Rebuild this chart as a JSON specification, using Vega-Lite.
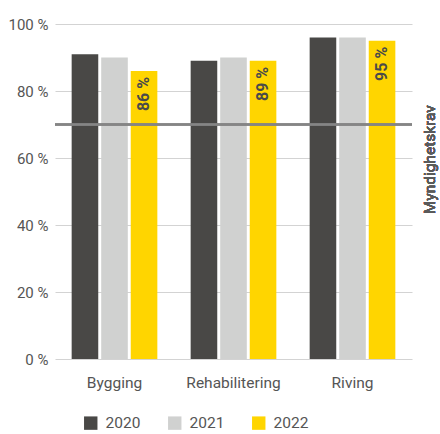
{
  "$schema": "https://vega.github.io/schema/vega-lite/v6.json",
  "width": 357,
  "height": 335,
  "autosize": {"type": "none"},
  "padding": {"left": 55, "top": 24, "right": 28, "bottom": 75},
  "background": "white",
  "config": {
    "font": "Roboto",
    "view": {"stroke": null},
    "axis": {"labelFont": "Roboto", "labelColor": "#555555", "labelFontSize": 15}
  },
  "data": {
    "values": [
      {"kategori": "Bygging", "år": "2020", "verdi": 91},
      {"kategori": "Bygging", "år": "2021", "verdi": 90},
      {"kategori": "Bygging", "år": "2022", "verdi": 86},
      {"kategori": "Rehabilitering", "år": "2020", "verdi": 89},
      {"kategori": "Rehabilitering", "år": "2021", "verdi": 90},
      {"kategori": "Rehabilitering", "år": "2022", "verdi": 89},
      {"kategori": "Riving", "år": "2020", "verdi": 96},
      {"kategori": "Riving", "år": "2021", "verdi": 96},
      {"kategori": "Riving", "år": "2022", "verdi": 95}
    ]
  },
  "layer": [
    {
      "mark": {"type": "bar"},
      "encoding": {
        "x": {
          "field": "kategori", "type": "nominal", "sort": null,
          "scale": {"paddingInner": 0.28, "paddingOuter": 0.14},
          "axis": {"title": null, "labelAngle": 0, "ticks": false, "domain": false, "labelPadding": 16, "labelFontSize": 15.5}
        },
        "xOffset": {"field": "år", "type": "nominal", "scale": {"paddingInner": 0.1}},
        "y": {
          "field": "verdi", "type": "quantitative",
          "scale": {"domain": [0, 100]},
          "axis": {
            "title": null, "values": [0, 20, 40, 60, 80, 100], "ticks": false, "domain": false,
            "labelPadding": 7, "gridColor": "#d3d3d3", "gridWidth": 1,
            "labelExpr": "datum.value + ' %'"
          }
        },
        "color": {
          "field": "år", "type": "nominal",
          "scale": {"domain": ["2020", "2021", "2022"], "range": ["#494846", "#d0d1d0", "#ffd500"]},
          "legend": {
            "title": null, "orient": "none", "direction": "horizontal",
            "legendX": 28, "legendY": 391,
            "symbolType": "square", "symbolSize": 180, "symbolStrokeWidth": 0,
            "labelFontSize": 15.5, "labelColor": "#555555", "labelFont": "Roboto",
            "columnPadding": 26, "labelOffset": 7
          }
        }
      }
    },
    {
      "mark": {"type": "rule", "color": "#858585", "strokeWidth": 1.6},
      "encoding": {"y": {"datum": 70}}
    },
    {
      "mark": {"type": "text", "angle": 270, "align": "center", "baseline": "middle", "fontSize": 15.5, "fontWeight": "normal", "color": "#5a5a5a", "dy": 18},
      "encoding": {
        "x": {"value": "width"},
        "y": {"datum": 59.5},
        "text": {"value": "Myndighetskrav"}
      }
    },
    {
      "transform": [
        {"filter": "datum['år'] == '2022'"},
        {"calculate": "datum.verdi + ' %'", "as": "etikett"}
      ],
      "mark": {"type": "text", "angle": 270, "align": "right", "baseline": "middle", "fontSize": 16, "fontWeight": "bold", "color": "#4a4a4a", "dx": -6},
      "encoding": {
        "x": {"field": "kategori", "type": "nominal", "sort": null},
        "xOffset": {"field": "år", "type": "nominal"},
        "y": {"field": "verdi", "type": "quantitative"},
        "text": {"field": "etikett", "type": "nominal"}
      }
    }
  ]
}
